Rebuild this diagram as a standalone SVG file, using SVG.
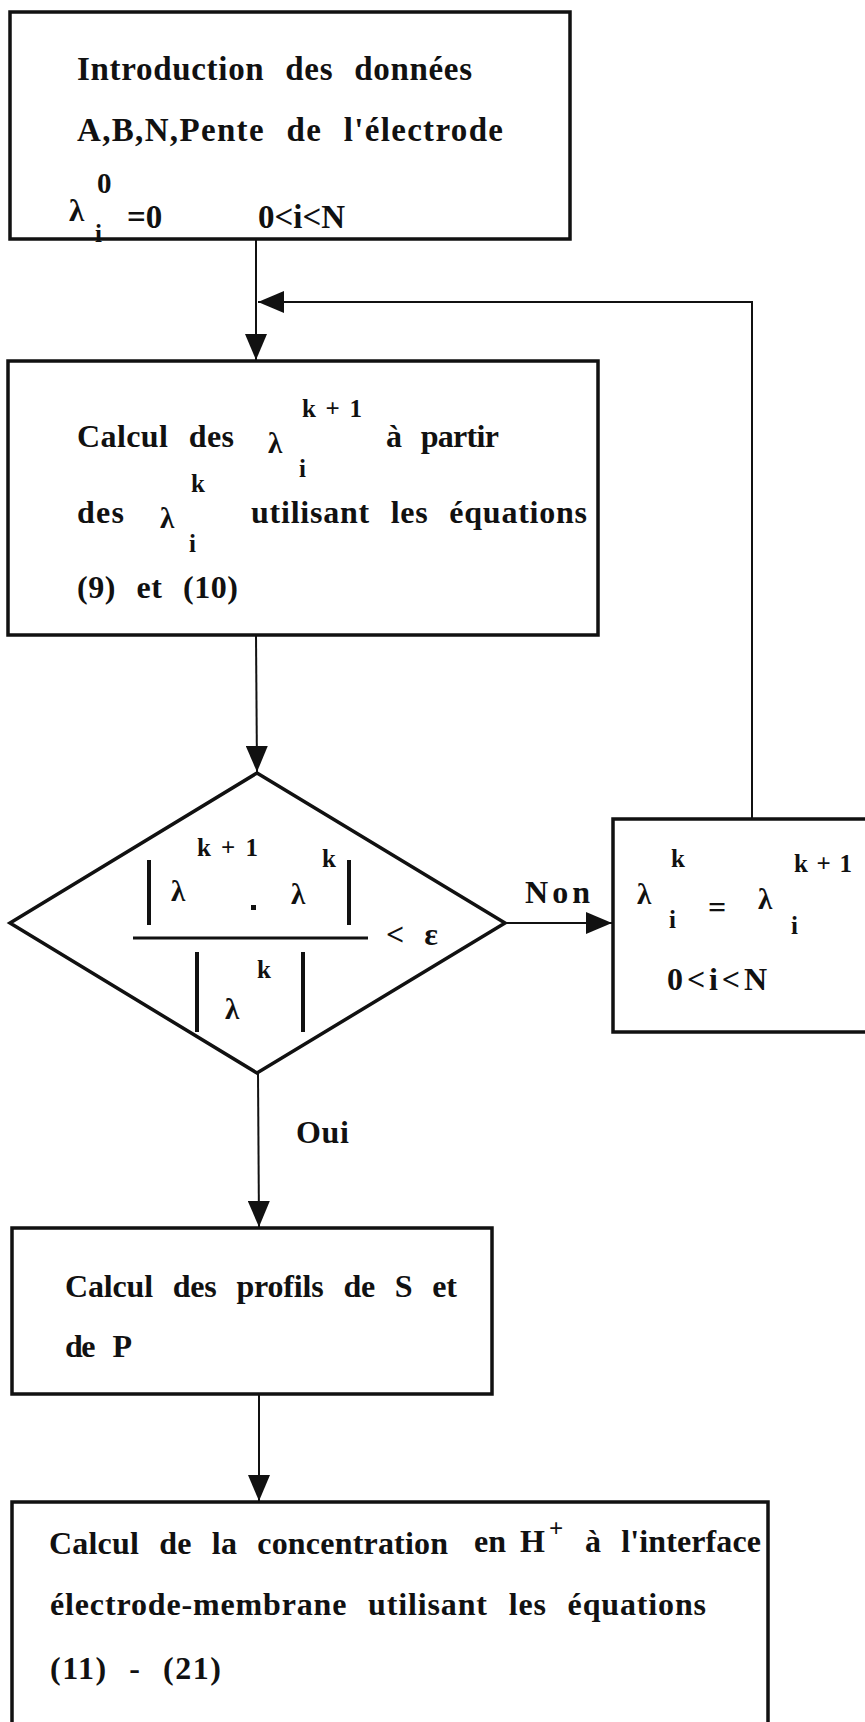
<svg xmlns="http://www.w3.org/2000/svg" width="865" height="1722" viewBox="0 0 865 1722">
<style>
text{font-family:"Liberation Serif","Times New Roman",serif;font-weight:bold;fill:#111;}
.t{font-size:32px;word-spacing:12px;}
.b1{font-size:33px;}
.s{font-size:25px;}
.l{font-size:29px;font-weight:bold;}
.box{fill:none;stroke:#111;stroke-width:3.5;}
.bar{stroke:#111;stroke-width:4;}
.conn{fill:none;stroke:#111;stroke-width:2;}
</style>
<defs>
<marker id="arr" markerUnits="userSpaceOnUse" markerWidth="27" markerHeight="22" refX="26" refY="11" orient="auto">
<path d="M0,0 L26,11 L0,22 z" fill="#111"/>
</marker>
</defs>
<rect width="865" height="1722" fill="#fff"/>

<g id="connectors">
<line class="conn" x1="256" y1="239" x2="256" y2="360" marker-end="url(#arr)"/>
<polyline class="conn" points="752,819 752,302 258,302" marker-end="url(#arr)"/>
<line class="conn" x1="256" y1="635" x2="257" y2="772" marker-end="url(#arr)"/>
<line class="conn" x1="505" y1="923" x2="612" y2="923" marker-end="url(#arr)"/>
<line class="conn" x1="258" y1="1073" x2="259" y2="1227" marker-end="url(#arr)"/>
<line class="conn" x1="259" y1="1394" x2="259" y2="1501" marker-end="url(#arr)"/>
<text class="t" x="525" y="903" textLength="65" lengthAdjust="spacing">Non</text>
<text class="t" x="296" y="1143" textLength="53" lengthAdjust="spacing">Oui</text>
</g>

<g id="n1">
<rect class="box" x="10" y="12" width="560" height="227"/>
<text class="t b1" x="77" y="80" textLength="395" lengthAdjust="spacing">Introduction des données</text>
<text class="t b1" x="77" y="141" textLength="426" lengthAdjust="spacing">A,B,N,Pente de l'électrode</text>
<text class="s" x="97" y="193" style="font-size:29px">0</text>
<text class="l" x="69" y="221" style="font-size:31px">λ</text>
<text class="s" x="95" y="242">i</text>
<text class="t b1" x="127" y="228">=0</text>
<text class="t b1" x="258" y="228" textLength="87" lengthAdjust="spacing">0&lt;i&lt;N</text>
</g>

<g id="n2">
<rect class="box" x="8" y="361" width="590" height="274"/>
<text class="t" x="77" y="447" textLength="157" lengthAdjust="spacing">Calcul des</text>
<text class="l" x="268" y="453">λ</text>
<text class="s" x="302" y="417" textLength="60" lengthAdjust="spacing">k+1</text>
<text class="s" x="299" y="477">i</text>
<text class="t" x="386" y="447" textLength="113" lengthAdjust="spacing">à partir</text>
<text class="t" x="77" y="523" textLength="47" lengthAdjust="spacing">des</text>
<text class="l" x="160" y="528">λ</text>
<text class="s" x="191" y="492">k</text>
<text class="s" x="189" y="552">i</text>
<text class="t" x="251" y="523" textLength="336" lengthAdjust="spacing">utilisant les équations</text>
<text class="t" x="77" y="598" textLength="161" lengthAdjust="spacing">(9) et (10)</text>
</g>

<g id="n3">
<polygon class="box" points="257,773 505,923 257,1073 10,923"/>
<line class="bar" x1="149" y1="860" x2="149" y2="925"/>
<line class="bar" x1="349" y1="860" x2="349" y2="925"/>
<text class="l" x="171" y="901">λ</text>
<text class="s" x="197" y="856" textLength="61" lengthAdjust="spacing">k+1</text>
<rect x="251" y="905" width="5" height="5" fill="#111"/>
<text class="l" x="291" y="904">λ</text>
<text class="s" x="322" y="867">k</text>
<line class="bar" x1="133" y1="938" x2="368" y2="938" style="stroke-width:3"/>
<text class="t" x="386" y="945" textLength="52" lengthAdjust="spacing">&lt; ε</text>
<line class="bar" x1="197" y1="952" x2="197" y2="1032"/>
<line class="bar" x1="303" y1="952" x2="303" y2="1032"/>
<text class="l" x="225" y="1019">λ</text>
<text class="s" x="257" y="978">k</text>
</g>

<g id="n4">
<rect class="box" x="613" y="819" width="262" height="213"/>
<text class="l" x="637" y="904">λ</text>
<text class="s" x="671" y="867">k</text>
<text class="s" x="669" y="928">i</text>
<text class="t" x="708" y="918">=</text>
<text class="l" x="758" y="909">λ</text>
<text class="s" x="794" y="872" textLength="58" lengthAdjust="spacing">k+1</text>
<text class="s" x="791" y="934">i</text>
<text class="t" x="667" y="990" textLength="100" lengthAdjust="spacing">0&lt;i&lt;N</text>
</g>

<g id="n5">
<rect class="box" x="12" y="1228" width="480" height="166"/>
<text class="t" x="65" y="1297" textLength="392" lengthAdjust="spacing">Calcul des profils de S et</text>
<text class="t" x="65" y="1357" textLength="67" lengthAdjust="spacing">de P</text>
</g>

<g id="n6">
<rect class="box" x="12" y="1502" width="756" height="240"/>
<text class="t" x="49" y="1554" textLength="399" lengthAdjust="spacing">Calcul de la concentration</text>
<text class="t" x="474" y="1552" textLength="32" lengthAdjust="spacing">en</text>
<text class="t" x="520" y="1552">H</text>
<text class="s" x="549" y="1537">+</text>
<text class="t" x="585" y="1552" textLength="176" lengthAdjust="spacing">à l'interface</text>
<text class="t" x="50" y="1615" textLength="656" lengthAdjust="spacing">électrode-membrane utilisant les équations</text>
<text class="t" x="50" y="1679" textLength="171" lengthAdjust="spacing">(11) - (21)</text>
</g>
</svg>
